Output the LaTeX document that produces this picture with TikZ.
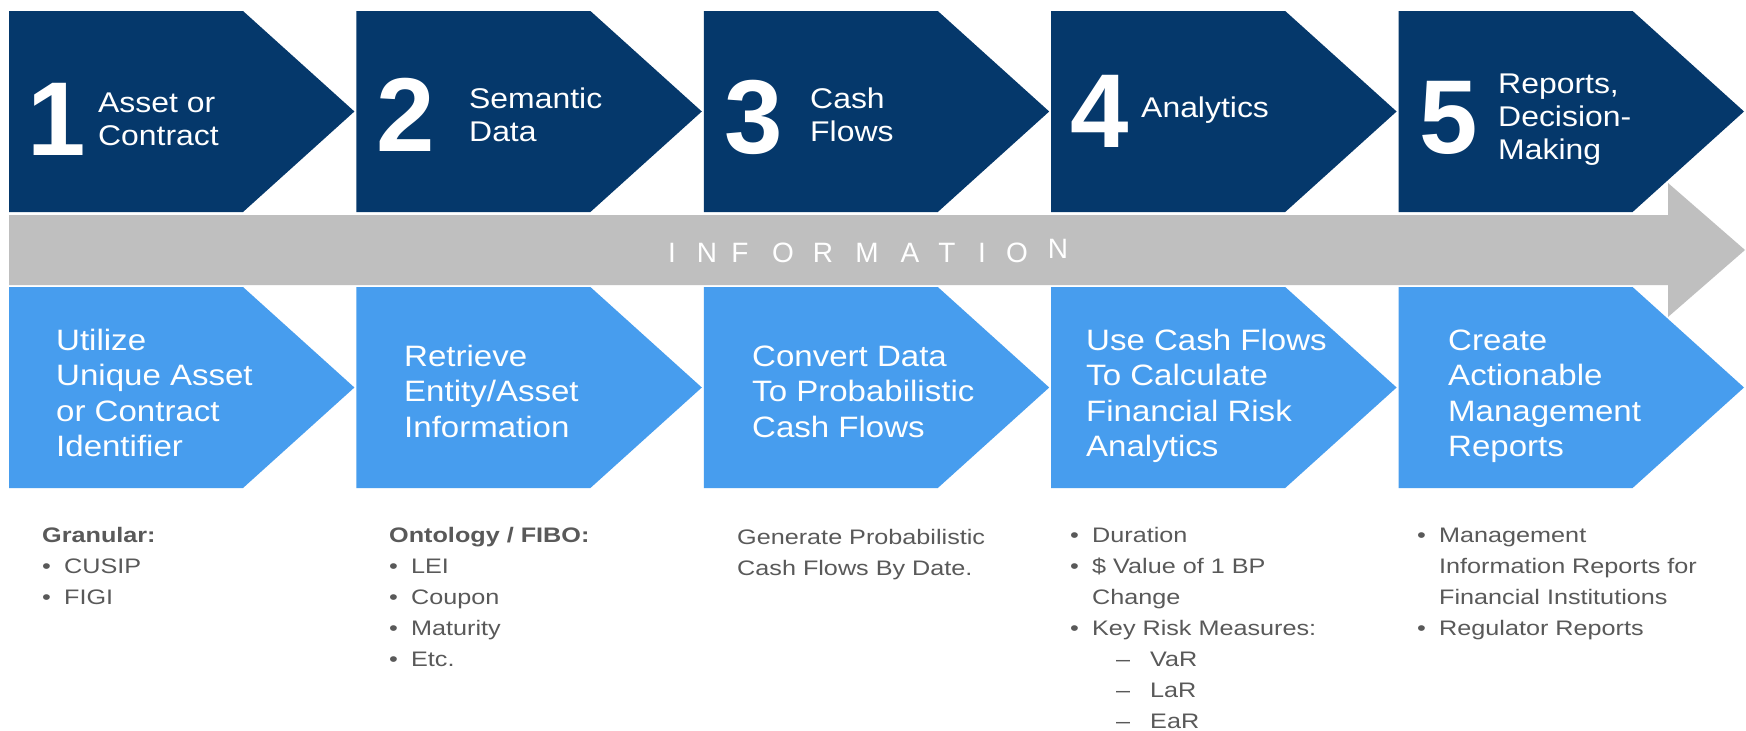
\documentclass[tikz,border=0pt]{standalone}
\usepackage{fontspec}
\setmainfont{Liberation Sans}
\newfontfamily\labelfont[FakeStretch=1.12]{Liberation Sans}
\newfontfamily\notefont[FakeStretch=1.2]{Liberation Sans}
\definecolor{stagedark}{HTML}{05386B}
\definecolor{stagelight}{HTML}{479DEE}
\definecolor{bandgrey}{HTML}{BFBFBF}
\definecolor{notegrey}{HTML}{595959}
\newcommand{\notebullet}{\makebox[22pt][l]{\textbullet}}
\newcommand{\notedash}{\hspace*{46pt}\makebox[34pt][l]{\textendash}}
\tikzset{
    stage number/.style = {anchor=base, inner sep=0pt, text=white, font=\fontsize{105}{105}\selectfont\bfseries},
    stage title/.style = {anchor=north west, inner sep=0pt, align=left, text=white, font=\labelfont\fontsize{28.5}{33}\selectfont},
    stage task/.style = {anchor=north west, inner sep=0pt, align=left, text=white, font=\labelfont\fontsize{29.5}{35.5}\selectfont},
    stage note/.style = {anchor=north west, inner sep=0pt, align=left, text=notegrey, font=\notefont\fontsize{21}{31}\selectfont},
    band letter/.style = {anchor=base, inner sep=0pt, text=white, font=\fontsize{28}{28}\selectfont}
}

\begin{document}
\begin{tikzpicture}[x=1pt, y=-1pt]
        % page frame
        \fill[white] (0, 0) rectangle (1746, 731);
        \useasboundingbox (0, 0) rectangle (1746, 731);
        % draw information arrow
        \fill[bandgrey] (9, 215) -- (1668, 215) -- (1668, 183) -- (1745, 250)
            -- (1668, 317) -- (1668, 285) -- (9, 285) -- cycle;
        % draw chevrons
        \foreach \i in {0,...,4} {
            \pgfmathsetmacro{\cx}{9 + 347.4*\i}
            \fill[stagedark] (\cx, 11) -- ++(234, 0) -- ++(111.4, 100.5) -- ++(-111.4, 100.5) -- ++(-234, 0) -- cycle;
            \fill[stagelight] (\cx, 287) -- ++(234, 0) -- ++(111.4, 100.5) -- ++(-111.4, 100.5) -- ++(-234, 0) -- cycle;
        }
        % numbers and titles
        \foreach \i/\nx/\ny/\tx/\ty/\stagename in {
                1/57/155/98/89/{Asset or\\Contract},
                2/406/151/469/85/{Semantic\\Data},
                3/754/153/810/85/{Cash\\Flows},
                4/1100/147/1141/94/{Analytics},
                5/1449/153/1498/70/{Reports,\\Decision-\\Making}} {
            \node[stage number] (num\i) at (\nx, \ny) {\i};
            \node[stage title] (title\i) at (\tx, \ty) {\strut\stagename};
        }
        % lettering on the arrow
        \foreach \ch/\lx/\ly [count=\k] in {I/672/262, N/707/262, F/740/262, O/783/262, R/823/262,
                M/867/262, A/910/262, T/947/262, I/982/262, O/1017/262, N/1058/258}
            \node[band letter] (info\k) at (\lx, \ly) {\ch};
        % tasks in the lower chevrons
        \foreach \i/\tx/\ty/\task in {
                1/56/325/{Utilize\\Unique Asset\\or Contract\\Identifier},
                2/404/341/{Retrieve\\Entity/Asset\\Information},
                3/752/341/{Convert Data\\To Probabilistic\\Cash Flows},
                4/1086/325/{Use Cash Flows\\To Calculate\\Financial Risk\\Analytics},
                5/1448/325/{Create\\Actionable\\Management\\Reports}}
            \node[stage task] (task\i) at (\tx, \ty) {\strut\task};
        % notes under the chevrons
        \node[stage note] (note1) at (42, 521) {\strut\textbf{Granular:}\\
            \notebullet CUSIP\\
            \notebullet FIGI};
        \node[stage note] (note2) at (389, 521) {\strut\textbf{Ontology / FIBO:}\\
            \notebullet LEI\\
            \notebullet Coupon\\
            \notebullet Maturity\\
            \notebullet Etc.};
        \node[stage note] (note3) at (737, 523) {\strut Generate Probabilistic\\Cash Flows By Date.};
        \node[stage note] (note4) at (1070, 521) {\strut\notebullet Duration\\
            \notebullet\$ Value of 1 BP\\
            \hspace*{22pt}Change\\
            \notebullet Key Risk Measures:\\
            \notedash VaR\\
            \notedash LaR\\
            \notedash EaR};
        \node[stage note] (note5) at (1417, 521) {\strut\notebullet Management\\
            \hspace*{22pt}Information Reports for\\
            \hspace*{22pt}Financial Institutions\\
            \notebullet Regulator Reports};
\end{tikzpicture}
\end{document}
